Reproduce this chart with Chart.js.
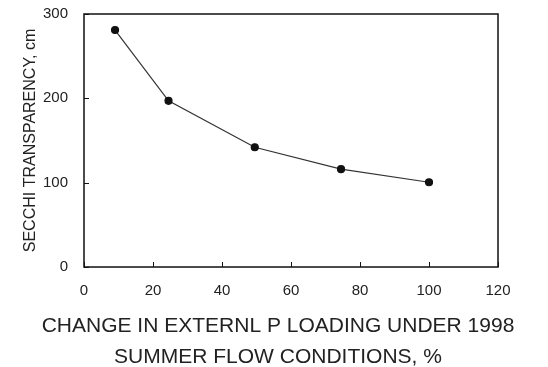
<!DOCTYPE html>
<html>
<head>
<meta charset="utf-8">
<script src="https://cdn.jsdelivr.net/npm/chart.js@4"></script>
<style>
  html, body { margin: 0; padding: 0; background: #fff; }
  #wrap { width: 548px; height: 367px; }
</style>
</head>
<body>
<div id="wrap"><canvas id="myChart" width="548" height="367"></canvas></div>
<script>
const loadChange = [9, 24.5, 49.5, 74.5, 100];
const secchi = [281, 197, 142, 116, 100.5];
const xTicks = [0, 20, 40, 60, 80, 100, 120];
const yTicks = [0, 100, 200, 300];

const textColor = '#222';
const font = 'Liberation Sans, Arial, sans-serif';

// frame around the plot plus inward tick marks
const frame = {
    id: 'frame',
    afterDraw(chart) {
        const c = chart.ctx, a = chart.chartArea;
        const xs = chart.scales.x, ys = chart.scales.y;
        c.save();
        c.strokeStyle = '#111';
        c.lineWidth = 1.5;
        c.strokeRect(a.left, a.top, a.right - a.left, a.bottom - a.top);
        c.lineWidth = 1;
        c.beginPath();
        xTicks.forEach(v => {
            const px = Math.round(xs.getPixelForValue(v)) + 0.5;
            c.moveTo(px, a.bottom);
            c.lineTo(px, a.bottom - 5);
        });
        yTicks.forEach(v => {
            const py = Math.round(ys.getPixelForValue(v)) + 0.5;
            c.moveTo(a.left, py);
            c.lineTo(a.left + 5, py);
        });
        c.stroke();
        c.restore();
    }
};

const noPad = s => { s.paddingTop = 0; s.paddingBottom = 0; };

const ctx = document.getElementById('myChart').getContext('2d');
const myChart = new Chart(ctx, {
    type: 'scatter',
    data: {
        datasets: [{
            data: loadChange.map((x, i) => ({ x: x, y: secchi[i] })),
            showLine: true,
            borderColor: '#333',
            borderWidth: 1.2,
            backgroundColor: '#111',
            pointBackgroundColor: '#111',
            pointBorderColor: '#111',
            pointRadius: 3.5,
            pointHoverRadius: 3.5
        }]
    },
    options: {
        responsive: false,
        animation: false,
        layout: { padding: { top: 14, right: 0, left: 8, bottom: 0 } },
        plugins: {
            legend: { display: false },
            tooltip: { enabled: false },
            title: {
                display: true,
                position: 'bottom',
                text: ['CHANGE IN EXTERNL P LOADING UNDER 1998', 'SUMMER FLOW CONDITIONS, %'],
                color: textColor,
                font: { family: font, size: 21, weight: 'normal', lineHeight: 1.476 },
                padding: { top: 0, bottom: -5.5 }
            }
        },
        scales: {
            x: {
                type: 'linear',
                min: 0,
                max: 120,
                afterBuildTicks: s => { s.ticks = xTicks.map(v => ({ value: v })); },
                afterFit: s => { s.height = 43.5; },
                grid: { display: false, drawTicks: false },
                border: { display: false },
                ticks: { padding: 15, color: textColor, font: { family: font, size: 15 } }
            },
            y: {
                type: 'linear',
                min: 0,
                max: 300,
                afterBuildTicks: s => { s.ticks = yTicks.map(v => ({ value: v })); },
                afterFit: s => { s.width = 76; noPad(s); },
                grid: { display: false, drawTicks: false },
                border: { display: false },
                ticks: { padding: 16, color: textColor, font: { family: font, size: 15 } },
                title: {
                    display: true,
                    text: 'SECCHI TRANSPARENCY, cm',
                    color: textColor,
                    font: { family: font, size: 16 },
                    padding: { top: 13, bottom: 0 }
                }
            },
            y2: {
                type: 'linear',
                position: 'right',
                min: 0,
                max: 300,
                afterFit: s => { s.width = 50; noPad(s); },
                grid: { display: false, drawTicks: false },
                border: { display: false },
                ticks: { display: false }
            }
        }
    },
    plugins: [frame]
});
</script>
</body>
</html>
